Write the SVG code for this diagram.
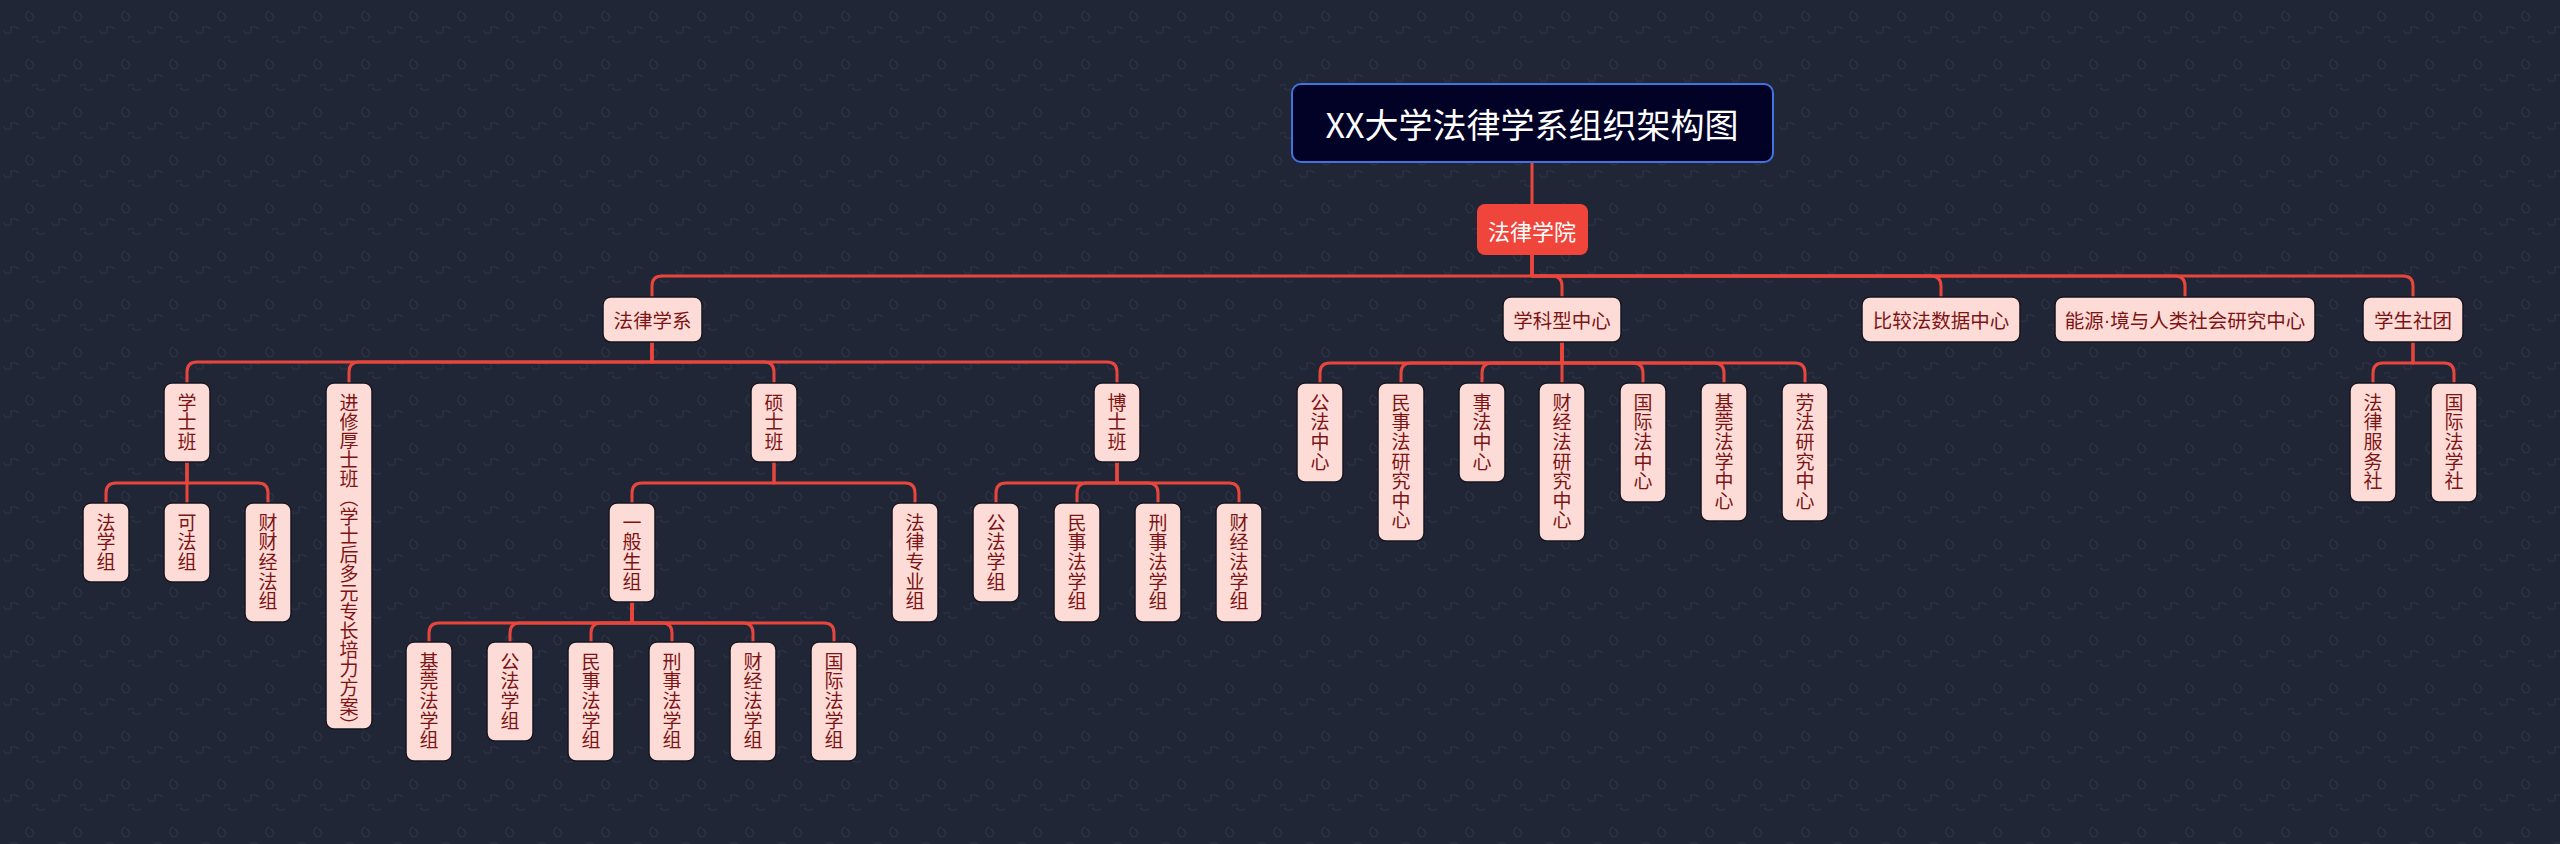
<svg xmlns="http://www.w3.org/2000/svg" width="2560" height="844" viewBox="0 0 2560 844">
<defs>
<pattern id="bgp" x="0" y="0" width="48" height="48" patternUnits="userSpaceOnUse">
<path d="M29 11 q-5 3 -2 8 q3 4 6 0 q2 -4 -3 -6" fill="none" stroke="#2d3346" stroke-width="1.1"/>
<path d="M3 30 q2 5 7 3 q3 -2 0 -5 M10 28 q5 -3 9 1" fill="none" stroke="#2d3346" stroke-width="1.1"/>
<path d="M36 40 q4 4 9 1 M38 38 q-3 -3 -6 0" fill="none" stroke="#2d3346" stroke-width="1.1"/>
</pattern>
<style>
.bx{fill:#fddcd8;stroke:#15161f;stroke-width:1.5}
.t{font-family:"Noto Sans CJK SC","Noto Sans",sans-serif;fill:#7d1414;font-size:19.5px;text-anchor:middle;dominant-baseline:central}
.v{font-family:"Noto Sans CJK SC","Noto Sans",sans-serif;fill:#7d1414;font-size:19px;writing-mode:vertical-rl;letter-spacing:0.6px}
.c{fill:none;stroke:#e8463d;stroke-width:3;stroke-linejoin:round}
</style>
</defs>
<rect width="2560" height="844" fill="#212637"/>
<rect width="2560" height="844" fill="url(#bgp)"/>

<g id="connectors">
<path class="c" d="M1532 162 V204"/>
<path class="c" d="M1532 255 V276 H662 Q652 276 652 286 V297"/>
<path class="c" d="M1532 255 V276 H1552 Q1562 276 1562 286 V297"/>
<path class="c" d="M1532 255 V276 H1931 Q1941 276 1941 286 V297"/>
<path class="c" d="M1532 255 V276 H2175 Q2185 276 2185 286 V297"/>
<path class="c" d="M1532 255 V276 H2403 Q2413 276 2413 286 V297"/>

<path class="c" d="M652 342 V362 H197 Q187 362 187 372 V383"/>
<path class="c" d="M652 342 V362 H359 Q349 362 349 372 V383"/>
<path class="c" d="M652 342 V362 H764 Q774 362 774 372 V383"/>
<path class="c" d="M652 342 V362 H1107 Q1117 362 1117 372 V383"/>

<path class="c" d="M187 462 V483 H116 Q106 483 106 493 V503"/>
<path class="c" d="M187 462 V503"/>
<path class="c" d="M187 462 V483 H258 Q268 483 268 493 V503"/>

<path class="c" d="M774 462 V483 H642 Q632 483 632 493 V503"/>
<path class="c" d="M774 462 V483 H905 Q915 483 915 493 V503"/>

<path class="c" d="M632 602 V623 H439 Q429 623 429 633 V642"/>
<path class="c" d="M632 602 V623 H520 Q510 623 510 633 V642"/>
<path class="c" d="M632 602 V623 H601 Q591 623 591 633 V642"/>
<path class="c" d="M632 602 V623 H662 Q672 623 672 633 V642"/>
<path class="c" d="M632 602 V623 H743 Q753 623 753 633 V642"/>
<path class="c" d="M632 602 V623 H824 Q834 623 834 633 V642"/>

<path class="c" d="M1117 462 V483 H1006 Q996 483 996 493 V503"/>
<path class="c" d="M1117 462 V483 H1087 Q1077 483 1077 493 V503"/>
<path class="c" d="M1117 462 V483 H1148 Q1158 483 1158 493 V503"/>
<path class="c" d="M1117 462 V483 H1229 Q1239 483 1239 493 V503"/>

<path class="c" d="M1562 342 V363 H1330 Q1320 363 1320 373 V383"/>
<path class="c" d="M1562 342 V363 H1411 Q1401 363 1401 373 V383"/>
<path class="c" d="M1562 342 V363 H1492 Q1482 363 1482 373 V383"/>
<path class="c" d="M1562 342 V383"/>
<path class="c" d="M1562 342 V363 H1633 Q1643 363 1643 373 V383"/>
<path class="c" d="M1562 342 V363 H1714 Q1724 363 1724 373 V383"/>
<path class="c" d="M1562 342 V363 H1795 Q1805 363 1805 373 V383"/>

<path class="c" d="M2413 342 V363 H2383 Q2373 363 2373 373 V383"/>
<path class="c" d="M2413 342 V363 H2444 Q2454 363 2454 373 V383"/>
</g>

<g id="root"><rect x="1292" y="84" width="481" height="78" rx="9" fill="#020226" stroke="#3f74e0" stroke-width="2"/><text x="1532" y="123" font-family="Noto Sans CJK SC, Noto Sans, sans-serif" font-size="34" fill="#ffffff" text-anchor="middle" dominant-baseline="central">XX大学法律学系组织架构图</text></g>
<g id="n-xueyuan"><rect x="1477" y="204" width="111" height="51" rx="8" fill="#f0453b"/><text x="1532" y="229.5" font-family="Noto Sans CJK SC, Noto Sans, sans-serif" font-size="22" fill="#ffffff" text-anchor="middle" dominant-baseline="central">法律学院</text></g>

<g id="n-xuexi"><rect class="bx" x="603" y="297" width="99" height="45" rx="8"/><text class="t" x="652.5" y="319.5">法律学系</text></g>
<g id="n-xueke"><rect class="bx" x="1503" y="297" width="118" height="45" rx="8"/><text class="t" x="1562" y="319.5">学科型中心</text></g>
<g id="n-bijiao"><rect class="bx" x="1862" y="297" width="158" height="45" rx="8"/><text class="t" x="1941" y="319.5">比较法数据中心</text></g>
<g id="n-nengyuan"><rect class="bx" x="2055" y="297" width="260" height="45" rx="8"/><text class="t" x="2185" y="319.5">能源<tspan font-family="Liberation Sans, sans-serif">·</tspan>境与人类社会研究中心</text></g>
<g id="n-shetuan"><rect class="bx" x="2363" y="297" width="100" height="45" rx="8"/><text class="t" x="2413" y="319.5">学生社团</text></g>

<g id="n-xueshi"><rect class="bx" x="164" y="383" width="46" height="79" rx="8"/><text class="v" x="187" y="393">学士班</text></g>
<g id="n-jinxiu"><rect class="bx" x="326" y="383" width="46" height="346" rx="8"/><text class="v" x="349" y="393" style="letter-spacing:0">进修厚士班（学士后多元专长培力方案）</text></g>
<g id="n-shuoshi"><rect class="bx" x="751" y="383" width="46" height="79" rx="8"/><text class="v" x="774" y="393">硕士班</text></g>
<g id="n-boshi"><rect class="bx" x="1094" y="383" width="46" height="79" rx="8"/><text class="v" x="1117" y="393">博士班</text></g>

<g id="n-fxz"><rect class="bx" x="83" y="503" width="46" height="79" rx="8"/><text class="v" x="106" y="513">法学组</text></g>
<g id="n-kfz"><rect class="bx" x="164" y="503" width="46" height="79" rx="8"/><text class="v" x="187" y="513">可法组</text></g>
<g id="n-ccjfz"><rect class="bx" x="245" y="503" width="46" height="119" rx="8"/><text class="v" x="268" y="513">财财经法组</text></g>

<g id="n-ybsz"><rect class="bx" x="609" y="503" width="46" height="99" rx="8"/><text class="v" x="632" y="513">一般生组</text></g>
<g id="n-flzyz"><rect class="bx" x="892" y="503" width="46" height="119" rx="8"/><text class="v" x="915" y="513">法律专业组</text></g>

<g id="n-s1"><rect class="bx" x="406" y="642" width="46" height="119" rx="8"/><text class="v" x="429" y="652">基莞法学组</text></g>
<g id="n-s2"><rect class="bx" x="487" y="642" width="46" height="99" rx="8"/><text class="v" x="510" y="652">公法学组</text></g>
<g id="n-s3"><rect class="bx" x="568" y="642" width="46" height="119" rx="8"/><text class="v" x="591" y="652">民事法学组</text></g>
<g id="n-s4"><rect class="bx" x="649" y="642" width="46" height="119" rx="8"/><text class="v" x="672" y="652">刑事法学组</text></g>
<g id="n-s5"><rect class="bx" x="730" y="642" width="46" height="119" rx="8"/><text class="v" x="753" y="652">财经法学组</text></g>
<g id="n-s6"><rect class="bx" x="811" y="642" width="46" height="119" rx="8"/><text class="v" x="834" y="652">国际法学组</text></g>

<g id="n-b1"><rect class="bx" x="973" y="503" width="46" height="99" rx="8"/><text class="v" x="996" y="513">公法学组</text></g>
<g id="n-b2"><rect class="bx" x="1054" y="503" width="46" height="119" rx="8"/><text class="v" x="1077" y="513">民事法学组</text></g>
<g id="n-b3"><rect class="bx" x="1135" y="503" width="46" height="119" rx="8"/><text class="v" x="1158" y="513">刑事法学组</text></g>
<g id="n-b4"><rect class="bx" x="1216" y="503" width="46" height="119" rx="8"/><text class="v" x="1239" y="513">财经法学组</text></g>

<g id="n-c1"><rect class="bx" x="1297" y="383" width="46" height="99" rx="8"/><text class="v" x="1320" y="393">公法中心</text></g>
<g id="n-c2"><rect class="bx" x="1378" y="383" width="46" height="158" rx="8"/><text class="v" x="1401" y="393">民事法研究中心</text></g>
<g id="n-c3"><rect class="bx" x="1459" y="383" width="46" height="99" rx="8"/><text class="v" x="1482" y="393">事法中心</text></g>
<g id="n-c4"><rect class="bx" x="1539" y="383" width="46" height="158" rx="8"/><text class="v" x="1562" y="393">财经法研究中心</text></g>
<g id="n-c5"><rect class="bx" x="1620" y="383" width="46" height="119" rx="8"/><text class="v" x="1643" y="393">国际法中心</text></g>
<g id="n-c6"><rect class="bx" x="1701" y="383" width="46" height="138" rx="8"/><text class="v" x="1724" y="393">基莞法学中心</text></g>
<g id="n-c7"><rect class="bx" x="1782" y="383" width="46" height="138" rx="8"/><text class="v" x="1805" y="393">劳法研究中心</text></g>

<g id="n-st1"><rect class="bx" x="2350" y="383" width="46" height="119" rx="8"/><text class="v" x="2373" y="393">法律服务社</text></g>
<g id="n-st2"><rect class="bx" x="2431" y="383" width="46" height="119" rx="8"/><text class="v" x="2454" y="393">国际法学社</text></g>
</svg>
